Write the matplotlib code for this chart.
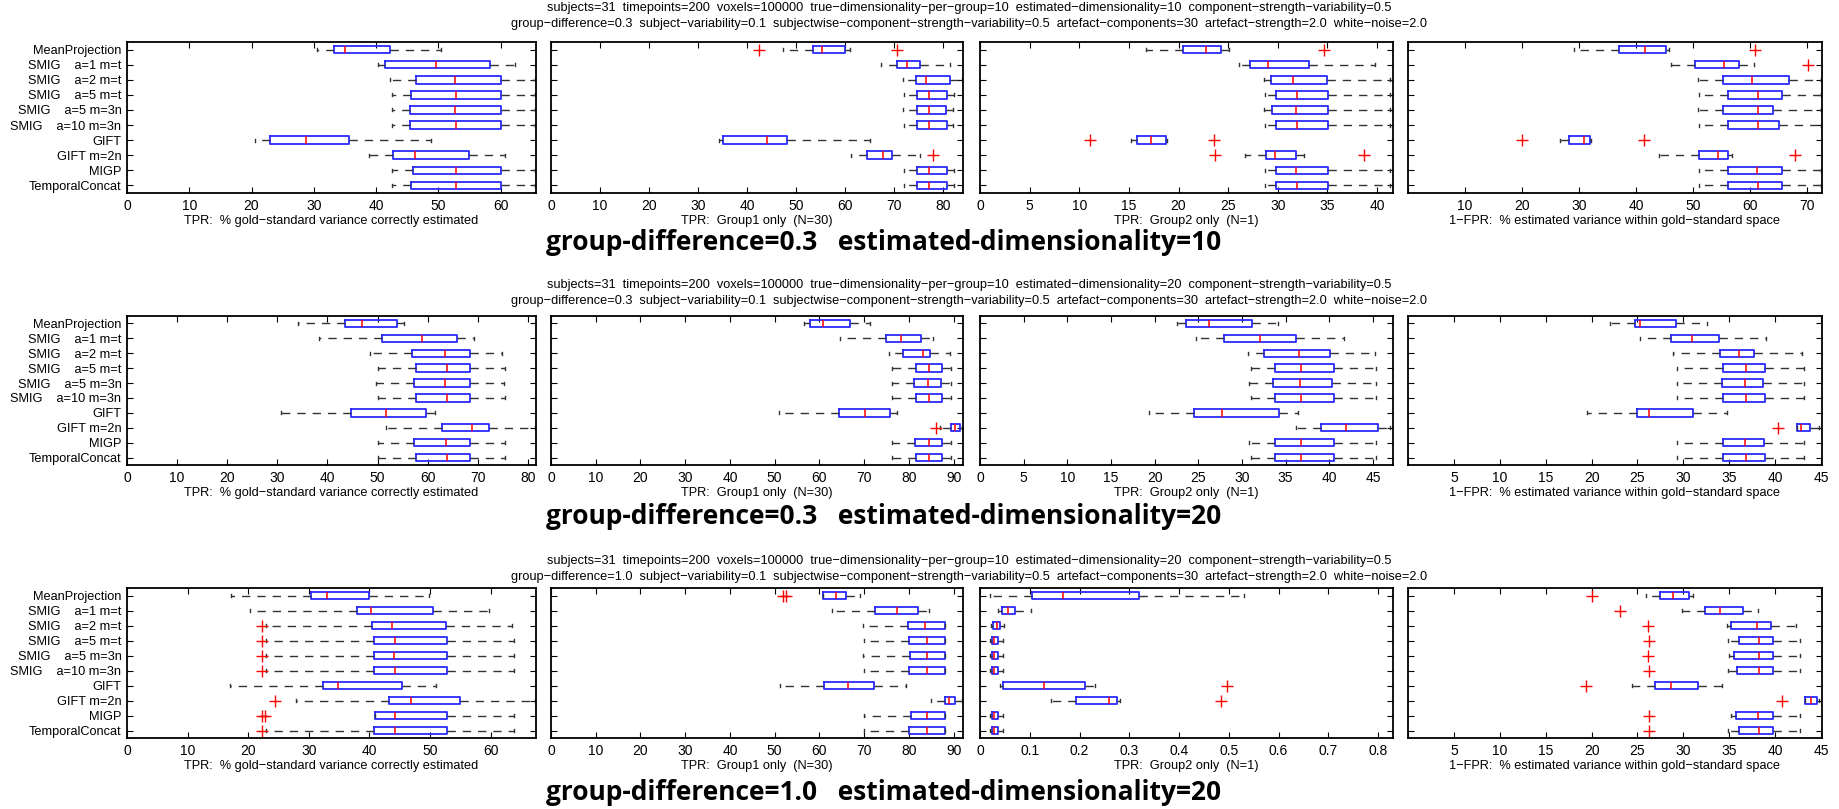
import matplotlib
matplotlib.use("Agg")
import matplotlib.pyplot as plt

plt.rcParams['font.family'] = ['Liberation Sans', 'DejaVu Sans']

methods = ["MeanProjection", "SMIG    a=1 m=t", "SMIG    a=2 m=t", "SMIG    a=5 m=t",
           "SMIG    a=5 m=3n", "SMIG    a=10 m=3n", "GIFT", "GIFT m=2n", "MIGP",
           "TemporalConcat"]

xlabels = ["TPR:  % gold\u2212standard variance correctly estimated",
           "TPR:  Group1 only  (N=30)",
           "TPR:  Group2 only  (N=1)",
           "1\u2212FPR:  % estimated variance within gold\u2212standard space"]

header1 = ["subjects=31  timepoints=200  voxels=100000  true\u2212dimensionality\u2212per\u2212group=10  "
           "estimated\u2212dimensionality=10  component\u2212strength\u2212variability=0.5",
           "subjects=31  timepoints=200  voxels=100000  true\u2212dimensionality\u2212per\u2212group=10  "
           "estimated\u2212dimensionality=20  component\u2212strength\u2212variability=0.5",
           "subjects=31  timepoints=200  voxels=100000  true\u2212dimensionality\u2212per\u2212group=10  "
           "estimated\u2212dimensionality=20  component\u2212strength\u2212variability=0.5"]
header2 = ["group\u2212difference=%s  subject\u2212variability=0.1  subjectwise\u2212component\u2212strength\u2212variability=0.5  "
           "artefact\u2212components=30  artefact\u2212strength=2.0  white\u2212noise=2.0" % g
           for g in ["0.3", "0.3", "1.0"]]
titles = ["group-difference=0.3   estimated-dimensionality=10",
          "group-difference=0.3   estimated-dimensionality=20",
          "group-difference=1.0   estimated-dimensionality=20"]

# each row: whisker low, q1, median, q3, whisker high
r1p1 = [(30.5, 33.3, 35.0, 42.3, 50.5), (40.3, 41.5, 49.6, 58.3, 62.3),
        (42.3, 46.5, 52.7, 60.0, 65.6), (42.5, 45.7, 52.9, 60.1, 65.6),
        (42.5, 45.4, 52.7, 60.1, 65.6), (42.5, 45.4, 52.9, 60.1, 65.6),
        (20.6, 23.0, 28.8, 35.7, 48.9), (38.9, 42.7, 46.3, 54.9, 60.8),
        (42.5, 45.9, 52.9, 60.1, 65.6), (42.5, 45.7, 52.9, 60.1, 65.6)]
r1p1_fl = [[], [], [], [], [], [], [], [], [], []]
r1p2 = [(47.4, 53.4, 55.4, 60.1, 61.1), (67.4, 70.6, 72.7, 75.3, 81.5),
        (71.9, 74.5, 76.6, 81.5, 83.9), (72.1, 74.7, 77.1, 80.8, 82.3),
        (71.9, 74.7, 77.2, 80.7, 82.0), (72.1, 74.7, 77.2, 80.8, 82.1),
        (34.3, 35.1, 44.0, 48.1, 65.1), (61.3, 64.5, 67.8, 69.7, 75.3),
        (72.1, 74.7, 77.1, 80.8, 82.3), (72.1, 74.7, 77.2, 80.8, 82.3)]
r1p2_fl = [[42.4, 70.6], [], [], [], [], [], [], [78.0], [], []]
r1p3 = [(16.7, 20.4, 22.8, 24.3, 25.1), (26.1, 27.2, 29.0, 33.1, 39.8),
        (28.6, 29.3, 31.5, 35.0, 41.3), (28.7, 29.8, 31.9, 35.1, 41.3),
        (28.6, 29.4, 31.8, 35.1, 41.3), (28.7, 29.8, 31.9, 35.1, 41.3),
        (15.2, 15.8, 17.2, 18.7, 18.8), (26.7, 28.8, 29.7, 31.8, 32.6),
        (28.7, 29.8, 31.8, 35.1, 41.3), (28.7, 29.8, 31.9, 35.1, 41.3)]
r1p3_fl = [[34.7], [], [], [], [], [], [11.1, 23.6], [23.7, 38.7], [], []]
r1p4 = [(29.1, 37.0, 41.6, 45.2, 45.7), (46.2, 50.4, 55.5, 58.0, 60.6),
        (50.8, 55.2, 60.3, 66.8, 72.5), (51.1, 56.2, 61.4, 65.5, 72.5),
        (50.8, 55.3, 61.3, 64.0, 72.5), (51.1, 56.2, 61.4, 65.0, 72.5),
        (26.6, 28.2, 30.9, 32.0, 32.1), (44.1, 51.1, 54.3, 56.2, 56.8),
        (51.1, 56.2, 61.2, 65.5, 72.5), (51.1, 56.2, 61.4, 65.5, 72.5)]
r1p4_fl = [[60.9], [70.1], [], [], [], [], [20.0, 41.3], [67.8], [], []]

r2p1 = [(34.2, 43.4, 46.9, 53.9, 55.2), (38.4, 50.9, 58.9, 65.9, 69.3),
        (48.5, 56.9, 63.4, 68.5, 74.9), (50.1, 57.6, 63.8, 68.5, 75.4),
        (49.7, 57.3, 63.4, 68.5, 75.2), (50.1, 57.6, 63.8, 68.5, 75.4),
        (30.7, 44.6, 51.6, 59.6, 61.4), (51.6, 62.8, 68.9, 72.3, 81.5),
        (50.1, 57.3, 63.7, 68.5, 75.4), (50.1, 57.6, 63.8, 68.5, 75.4)]
r2p1_fl = [[], [], [], [], [], [], [], [], [], []]
r2p2 = [(56.5, 57.8, 60.9, 66.9, 71.4), (64.7, 74.9, 78.2, 82.8, 85.5),
        (75.5, 78.7, 83.1, 84.8, 89.3), (76.2, 81.6, 84.4, 87.4, 89.5),
        (76.2, 81.1, 84.3, 87.2, 89.5), (76.2, 81.6, 84.4, 87.4, 89.5),
        (51.0, 64.4, 70.1, 75.8, 77.3), (87.0, 89.4, 90.2, 91.5, 91.9),
        (76.2, 81.4, 84.4, 87.4, 89.5), (76.2, 81.6, 84.4, 87.4, 89.5)]
r2p2_fl = [[], [], [], [], [], [], [], [86.1], [], []]
r2p3 = [(22.6, 23.6, 26.2, 31.2, 34.1), (24.7, 28.0, 32.1, 36.2, 41.7),
        (30.7, 32.5, 36.5, 40.1, 45.2), (31.0, 33.8, 36.8, 40.5, 45.4),
        (30.8, 33.6, 36.7, 40.3, 45.4), (31.0, 33.8, 36.8, 40.5, 45.4),
        (19.3, 24.5, 27.7, 34.3, 36.4), (36.2, 39.1, 41.9, 45.6, 47.0),
        (30.8, 33.8, 36.8, 40.6, 45.4), (31.0, 33.8, 36.8, 40.6, 45.4)]
r2p3_fl = [[], [], [], [], [], [], [], [], [], []]
r2p4 = [(22.0, 24.7, 25.3, 29.2, 32.6), (25.3, 28.6, 30.9, 33.9, 39.0),
        (28.9, 34.0, 36.1, 37.7, 42.9), (29.3, 34.3, 36.8, 38.9, 43.1),
        (29.3, 34.2, 36.7, 38.7, 43.1), (29.3, 34.3, 36.8, 38.9, 43.1),
        (19.5, 25.0, 26.3, 31.0, 34.8), (42.4, 42.4, 42.8, 43.8, 44.8),
        (29.3, 34.3, 36.7, 38.8, 43.1), (29.3, 34.3, 36.8, 38.9, 43.1)]
r2p4_fl = [[], [], [], [], [], [], [], [40.3], [], []]

r3p1 = [(17.2, 30.4, 33.0, 40.0, 49.8), (20.3, 38.0, 40.3, 50.5, 59.7),
        (23.0, 40.5, 43.8, 52.6, 63.6), (23.0, 40.7, 44.3, 52.8, 63.9),
        (23.0, 40.7, 44.1, 52.8, 63.9), (23.0, 40.7, 44.3, 52.8, 63.9),
        (17.0, 32.3, 34.9, 45.4, 51.0), (27.9, 43.3, 46.9, 55.0, 67.4),
        (40.9, 40.9, 44.3, 52.8, 63.9), (23.0, 40.7, 44.3, 52.8, 63.9)]
r3p1_fl = [[], [], [22.3], [22.3], [22.3], [22.3], [], [24.5], [22.3, 22.8], [22.3]]
r3p2 = [(60.9, 60.9, 63.8, 66.0, 69.1), (62.9, 72.5, 77.3, 82.0, 84.6),
        (69.7, 79.7, 83.5, 88.0, 88.0), (70.0, 80.1, 84.0, 88.0, 88.0),
        (69.7, 80.2, 84.0, 88.0, 88.0), (70.0, 80.1, 84.0, 88.0, 88.0),
        (51.2, 61.1, 66.3, 72.3, 79.3), (85.0, 88.0, 88.9, 90.2, 91.9),
        (70.0, 80.5, 84.0, 88.0, 88.0), (70.0, 80.1, 84.0, 88.0, 88.0)]
r3p2_fl = [[51.8, 52.5], [], [], [], [], [], [], [], [], []]
r3p3 = [(0.021, 0.105, 0.167, 0.320, 0.531), (0.037, 0.044, 0.056, 0.070, 0.103),
        (0.023, 0.027, 0.034, 0.041, 0.048), (0.021, 0.024, 0.028, 0.036, 0.046),
        (0.021, 0.024, 0.028, 0.036, 0.046), (0.021, 0.024, 0.028, 0.036, 0.046),
        (0.041, 0.047, 0.128, 0.211, 0.231), (0.142, 0.192, 0.260, 0.276, 0.282),
        (0.021, 0.024, 0.028, 0.036, 0.046), (0.021, 0.024, 0.028, 0.036, 0.046)]
r3p3_fl = [[], [], [], [], [], [], [0.497], [0.484], [], []]
r3p4 = [(25.9, 27.5, 28.9, 30.6, 31.0), (29.8, 32.3, 34.0, 36.5, 38.1),
        (34.8, 35.2, 38.0, 39.5, 42.3), (34.9, 36.1, 38.2, 39.8, 42.7),
        (35.0, 35.5, 38.2, 39.8, 42.7), (34.9, 35.8, 38.2, 39.8, 42.7),
        (24.4, 26.9, 28.7, 31.6, 34.2), (43.3, 43.3, 43.9, 44.6, 44.8),
        (35.2, 35.7, 38.1, 39.8, 42.7), (34.9, 36.1, 38.2, 39.8, 42.7)]
r3p4_fl = [[20.0], [23.1], [26.1], [26.3], [26.1], [26.3], [19.4], [40.7], [26.3], [26.3]]

panels = [[(r1p1, r1p1_fl), (r1p2, r1p2_fl), (r1p3, r1p3_fl), (r1p4, r1p4_fl)],
          [(r2p1, r2p1_fl), (r2p2, r2p2_fl), (r2p3, r2p3_fl), (r2p4, r2p4_fl)],
          [(r3p1, r3p1_fl), (r3p2, r3p2_fl), (r3p3, r3p3_fl), (r3p4, r3p4_fl)]]

xmax = [[65.7, 84.1, 41.6, 72.6], [81.6, 92.1, 47.3, 45.1], [67.5, 92.1, 0.83, 45.1]]
xstep = [[10, 10, 5, 10], [10, 10, 5, 5], [10, 10, 0.1, 5]]

W, H = 1840, 809
cols = [(127, 536), (551, 963), (980, 1393), (1408, 1822)]
rows = [(42, 193), (316, 465), (588, 738)]
head_y = [(8, 24), (285, 301), (561, 577)]
title_y = [243, 517, 792]

fig = plt.figure(figsize=(W / 100, H / 100), dpi=100)

for r in range(3):
    yt, yb = rows[r]
    for c in range(4):
        x0, x1 = cols[c]
        ax = fig.add_axes([x0 / W, 1 - yb / H, (x1 - x0) / W, (yb - yt) / H])
        vals, fl = panels[r][c]
        stats = []
        for i, v in enumerate(vals):
            stats.append(dict(whislo=v[0], q1=v[1], med=v[2], q3=v[3], whishi=v[4], fliers=fl[i]))
        ax.bxp(stats, positions=range(1, 11), widths=0.5, capwidths=0.2,
               orientation='horizontal', manage_ticks=False,
               boxprops=dict(color='#2a2aff', linewidth=1.3),
               medianprops=dict(color='#ff0000', linewidth=1.1),
               whiskerprops=dict(color='#333333', linewidth=1.0, linestyle=(0, (6, 5))),
               capprops=dict(color='#333333', linewidth=1.0),
               flierprops=dict(marker='+', markeredgecolor='#ff0000', markersize=9, markeredgewidth=1.0))
        ax.set_xlim(0, xmax[r][c])
        ax.set_ylim(10.5, 0.5)
        step = xstep[r][c]
        n = int(xmax[r][c] / step + 1e-6)
        ticks = [round(k * step, 3) for k in range(n + 1)]
        ax.set_xticks(ticks)
        if c == 3:
            ax.set_xticklabels(['' if t == 0 else ('%g' % t) for t in ticks])
        else:
            ax.set_xticklabels(['%g' % t for t in ticks])
        ax.set_yticks(range(1, 11))
        if c == 0:
            ax.set_yticklabels(methods, fontsize=9.2)
        else:
            ax.set_yticklabels([])
        ax.tick_params(direction='in', top=True, right=True, length=4, width=0.8, pad=4)
        ax.tick_params(axis='x', labelsize=10)
        for s in ax.spines.values():
            s.set_linewidth(1.3)
        ax.set_xlabel(xlabels[c], fontsize=9.2, labelpad=2)

    fig.text(0.5265, 1 - head_y[r][0] / H, header1[r], ha='center', va='center', fontsize=9.2)
    fig.text(0.5265, 1 - head_y[r][1] / H, header2[r], ha='center', va='center', fontsize=9.2)
    fig.text(0.480, 1 - title_y[r] / H, titles[r], ha='center', va='center', fontsize=19,
             fontweight='bold', family=['Open Sans', 'DejaVu Sans'])

fig.savefig("out.png", dpi=100)
